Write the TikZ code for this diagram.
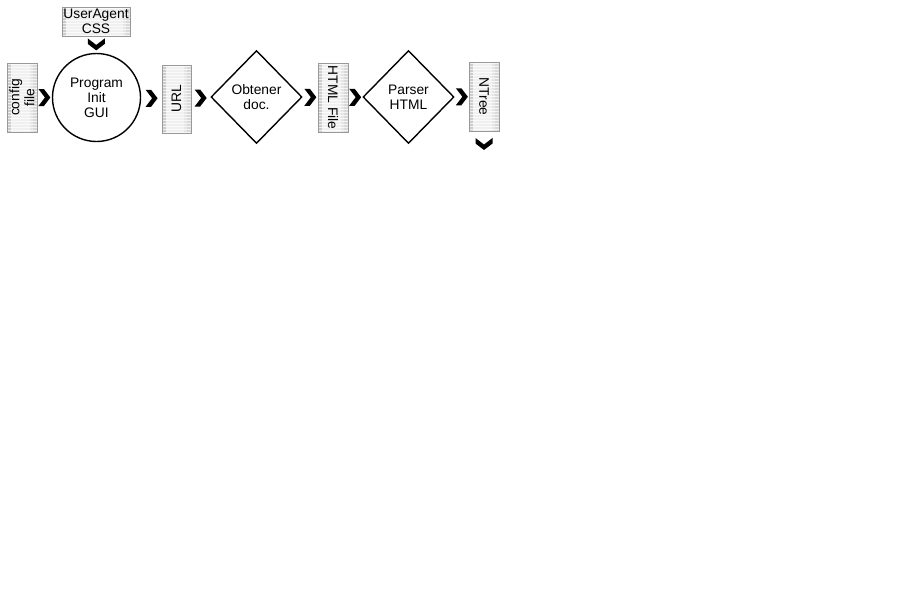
\documentclass[tikz,border=0pt]{standalone}
\usepackage{fontspec}
\setmainfont{Liberation Sans}
\usetikzlibrary{shapes.geometric,calc}
\tikzset{
 databox/.style={rectangle, draw=gray!80, line width=0.8pt, fill=gray!12, inner sep=0pt, outer sep=0pt,
   path picture={
     \fill[gray!40] (path picture bounding box.north west) rectangle ++(3.5,200);
     \fill[gray!30] (path picture bounding box.north east) rectangle ++(-4,200);
     \fill[gray!20] (path picture bounding box.north east) ++(-4,0) rectangle ++(-3,200);
     \foreach \i in {1.5,4.5,...,70} {
       \draw[white, opacity=0.7, line width=0.7pt] ($(path picture bounding box.north west)+(0,\i)$) -- ++(100,0);
     }
   }},
 txt/.style={font=\fontsize{13.8}{15}\selectfont},
 proc/.style={circle, draw, line width=1.4pt, align=center, inner sep=0pt, minimum size=88pt, txt},
 decide/.style={diamond, draw, line width=1.4pt, align=center, inner sep=0pt, minimum width=91pt, minimum height=93pt, txt},
 rlab/.style={txt, align=center, rotate=90},
 llab/.style={txt, align=center, rotate=-90},
 pics/chev/.style={code={\fill[black] (-6,-8.5) -- (-0.5,-8.5) -- (6,0) -- (-0.5,8.5) -- (-6,8.5) -- (0.5,0) -- cycle;}}
}
\begin{document}
\begin{tikzpicture}[x=1pt,y=-1pt]
\useasboundingbox (0,0) rectangle (921,592);
\node[databox, minimum width=30pt, minimum height=69pt, label={[rlab]center:{config\\file}}] (cfg) at (22,97.5) {};
\node[databox, minimum width=68pt, minimum height=29pt, txt, align=center] (ua) at (96,21.5) {UserAgent\\CSS};
\node[proc, text depth=0pt] (init) at (96.5,97.5) {Program\\Init\\GUI};
\node[databox, minimum width=29pt, minimum height=68pt, label={[rlab]center:{URL}}] (url) at (176.5,99) {};
\node[decide] (obt) at (256.5,97) {Obtener\\doc.};
\node[databox, minimum width=30pt, minimum height=69pt, label={[llab]center:{HTML File}}] (html) at (333,97.5) {};
\node[decide] (pars) at (408.5,97) {Parser\\HTML};
\node[databox, minimum width=30pt, minimum height=69pt, label={[llab]center:{NTree}}] (ntree) at (484,96.5) {};
\coordinate (out) at ($(ntree.south)+(0,13)$);
\pic at ($(cfg.east)!0.5!(init.west)$) {chev};
\pic[rotate=-90] at ($(ua.south)!0.5!(init.north)$) {chev};
\pic at ($(init.east)!0.5!(url.west)$) {chev};
\pic at ($(url.east)!0.5!(obt.west)$) {chev};
\pic at ($(obt.east)!0.5!(html.west)$) {chev};
\pic at ($(html.east)!0.5!(pars.west)$) {chev};
\pic at ($(pars.east)!0.5!(ntree.west)$) {chev};
\pic[rotate=-90] at (out) {chev};
\end{tikzpicture}
\end{document}
